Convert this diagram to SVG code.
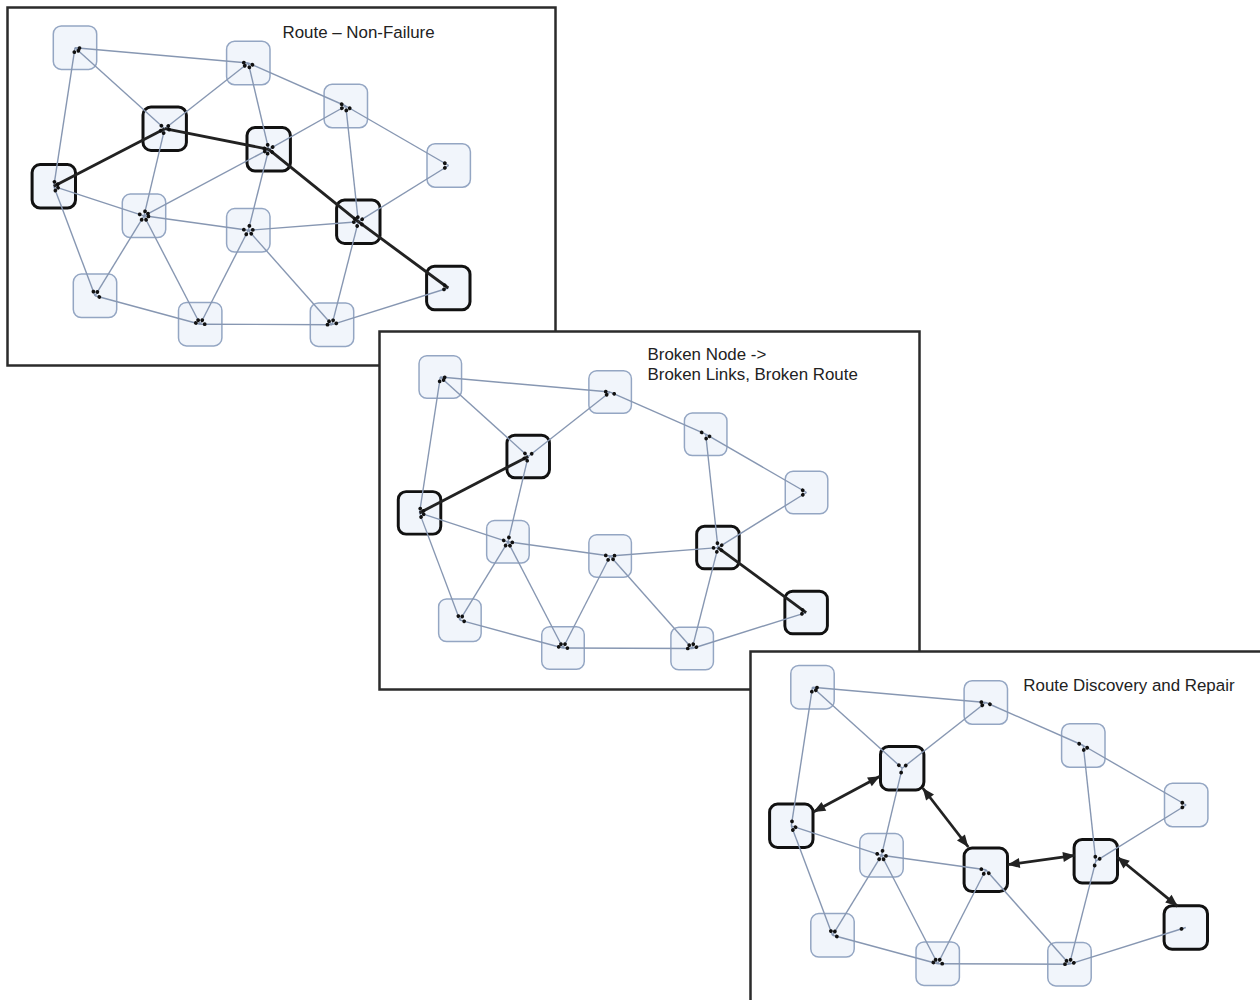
<svg xmlns="http://www.w3.org/2000/svg" width="1260" height="1000" viewBox="0 0 1260 1000">
<defs>
<style>
.frame{fill:#fff;stroke:#2b2b2b;stroke-width:2.5}
.n{fill:#f1f5fb;stroke:#94a6c3;stroke-width:1.5}
.nb{fill:#f1f5fb;stroke:#111;stroke-width:3}
.e{stroke:#8797b2;stroke-width:1.4;fill:none;marker-start:url(#ds);marker-end:url(#de)}
.r{stroke:#222;stroke-width:2.9;fill:none;marker-start:url(#ds);marker-end:url(#de)}
.a{stroke:#222;stroke-width:2.8;fill:none;marker-start:url(#ah);marker-end:url(#ah)}
.t{font-family:"Liberation Sans",Arial,sans-serif;font-size:16.9px;fill:#222}
</style>
<marker id="ds" markerUnits="userSpaceOnUse" markerWidth="14" markerHeight="14" refX="7" refY="7" orient="auto" overflow="visible"><circle cx="11.5" cy="7" r="1.9" fill="#111"/></marker>
<marker id="de" markerUnits="userSpaceOnUse" markerWidth="14" markerHeight="14" refX="7" refY="7" orient="auto" overflow="visible"><circle cx="2.5" cy="7" r="1.9" fill="#111"/></marker>
<marker id="ah" markerUnits="userSpaceOnUse" markerWidth="14" markerHeight="12" refX="12" refY="5" orient="auto-start-reverse" overflow="visible"><path d="M0,0 L12,5 L0,10 z" fill="#222"/></marker>
</defs>

<!-- Panel 1 -->
<rect class="frame" x="7.5" y="7.5" width="548" height="358"/>
<text class="t" x="282.5" y="38.3">Route – Non-Failure</text>
<g id="p1-nodes">
<g id="p1-A"><rect class="n" x="53.3" y="26" width="43.4" height="43.4" rx="8"/></g>
<g id="p1-B"><rect class="n" x="226.6" y="41.3" width="43.4" height="43.4" rx="8"/></g>
<g id="p1-C"><rect class="n" x="324.1" y="84.3" width="43.4" height="43.4" rx="8"/></g>
<g id="p1-D"><rect class="n" x="427" y="143.8" width="43.4" height="43.4" rx="8"/></g>
<g id="p1-E"><rect class="nb" x="143" y="107" width="43.4" height="43.4" rx="8"/></g>
<g id="p1-F"><rect class="nb" x="247" y="127.6" width="43.4" height="43.4" rx="8"/></g>
<g id="p1-G"><rect class="nb" x="32.1" y="164.6" width="43.4" height="43.4" rx="8"/></g>
<g id="p1-H"><rect class="n" x="122.3" y="194.1" width="43.4" height="43.4" rx="8"/></g>
<g id="p1-I"><rect class="n" x="226.6" y="208.6" width="43.4" height="43.4" rx="8"/></g>
<g id="p1-J"><rect class="nb" x="336.6" y="200" width="43.4" height="43.4" rx="8"/></g>
<g id="p1-K"><rect class="n" x="73.3" y="274.1" width="43.4" height="43.4" rx="8"/></g>
<g id="p1-L"><rect class="n" x="178.5" y="302.5" width="43.4" height="43.4" rx="8"/></g>
<g id="p1-M"><rect class="n" x="310.3" y="303" width="43.4" height="43.4" rx="8"/></g>
<g id="p1-N"><rect class="nb" x="426.6" y="266.3" width="43.4" height="43.4" rx="8"/></g>
</g>
<g id="p1-connectors">
<line class="e" x1="75" y1="47.7" x2="248.3" y2="63"/>
<line class="e" x1="75" y1="47.7" x2="164.7" y2="128.7"/>
<line class="e" x1="75" y1="47.7" x2="53.8" y2="186.3"/>
<line class="e" x1="248.3" y1="63" x2="164.7" y2="128.7"/>
<line class="e" x1="248.3" y1="63" x2="268.7" y2="149.3"/>
<line class="e" x1="248.3" y1="63" x2="345.8" y2="106"/>
<line class="e" x1="345.8" y1="106" x2="448.7" y2="165.5"/>
<line class="e" x1="345.8" y1="106" x2="268.7" y2="149.3"/>
<line class="e" x1="345.8" y1="106" x2="358.3" y2="221.7"/>
<line class="e" x1="448.7" y1="165.5" x2="358.3" y2="221.7"/>
<line class="e" x1="268.7" y1="149.3" x2="144" y2="215.8"/>
<line class="e" x1="268.7" y1="149.3" x2="248.3" y2="230.3"/>
<line class="e" x1="164.7" y1="128.7" x2="144" y2="215.8"/>
<line class="e" x1="53.8" y1="186.3" x2="144" y2="215.8"/>
<line class="e" x1="53.8" y1="186.3" x2="95" y2="295.8"/>
<line class="e" x1="144" y1="215.8" x2="248.3" y2="230.3"/>
<line class="e" x1="144" y1="215.8" x2="95" y2="295.8"/>
<line class="e" x1="144" y1="215.8" x2="200.2" y2="324.2"/>
<line class="e" x1="248.3" y1="230.3" x2="358.3" y2="221.7"/>
<line class="e" x1="248.3" y1="230.3" x2="200.2" y2="324.2"/>
<line class="e" x1="248.3" y1="230.3" x2="332" y2="324.7"/>
<line class="e" x1="358.3" y1="221.7" x2="332" y2="324.7"/>
<line class="e" x1="95" y1="295.8" x2="200.2" y2="324.2"/>
<line class="e" x1="200.2" y1="324.2" x2="332" y2="324.7"/>
<line class="e" x1="332" y1="324.7" x2="448.3" y2="288"/>
<line class="r" x1="53.8" y1="186.3" x2="164.7" y2="128.7"/>
<line class="r" x1="164.7" y1="128.7" x2="268.7" y2="149.3"/>
<line class="r" x1="268.7" y1="149.3" x2="358.3" y2="221.7"/>
<line class="r" x1="358.3" y1="221.7" x2="448.3" y2="288"/>
</g>

<!-- Panel 2 -->
<rect class="frame" x="379.5" y="331.5" width="540" height="358"/>
<text class="t" x="647.5" y="360.3">Broken Node -&gt;</text>
<text class="t" x="647.5" y="379.7">Broken Links, Broken Route</text>
<g transform="translate(366.8,330.3) scale(0.98)">
<g id="p2-nodes">
<g id="p2-A"><rect class="n" x="53.3" y="26" width="43.4" height="43.4" rx="8"/></g>
<g id="p2-B"><rect class="n" x="226.6" y="41.3" width="43.4" height="43.4" rx="8"/></g>
<g id="p2-C"><rect class="n" x="324.1" y="84.3" width="43.4" height="43.4" rx="8"/></g>
<g id="p2-D"><rect class="n" x="427" y="143.8" width="43.4" height="43.4" rx="8"/></g>
<g id="p2-E"><rect class="nb" x="143" y="107" width="43.4" height="43.4" rx="8"/></g>
<g id="p2-G"><rect class="nb" x="32.1" y="164.6" width="43.4" height="43.4" rx="8"/></g>
<g id="p2-H"><rect class="n" x="122.3" y="194.1" width="43.4" height="43.4" rx="8"/></g>
<g id="p2-I"><rect class="n" x="226.6" y="208.6" width="43.4" height="43.4" rx="8"/></g>
<g id="p2-J"><rect class="nb" x="336.6" y="200" width="43.4" height="43.4" rx="8"/></g>
<g id="p2-K"><rect class="n" x="73.3" y="274.1" width="43.4" height="43.4" rx="8"/></g>
<g id="p2-L"><rect class="n" x="178.5" y="302.5" width="43.4" height="43.4" rx="8"/></g>
<g id="p2-M"><rect class="n" x="310.3" y="303" width="43.4" height="43.4" rx="8"/></g>
<g id="p2-N"><rect class="nb" x="426.6" y="266.3" width="43.4" height="43.4" rx="8"/></g>
</g>
<g id="p2-connectors">
<line class="e" x1="75" y1="47.7" x2="248.3" y2="63"/>
<line class="e" x1="75" y1="47.7" x2="164.7" y2="128.7"/>
<line class="e" x1="75" y1="47.7" x2="53.8" y2="186.3"/>
<line class="e" x1="248.3" y1="63" x2="164.7" y2="128.7"/>
<line class="e" x1="248.3" y1="63" x2="345.8" y2="106"/>
<line class="e" x1="345.8" y1="106" x2="448.7" y2="165.5"/>
<line class="e" x1="345.8" y1="106" x2="358.3" y2="221.7"/>
<line class="e" x1="448.7" y1="165.5" x2="358.3" y2="221.7"/>
<line class="e" x1="164.7" y1="128.7" x2="144" y2="215.8"/>
<line class="e" x1="53.8" y1="186.3" x2="144" y2="215.8"/>
<line class="e" x1="53.8" y1="186.3" x2="95" y2="295.8"/>
<line class="e" x1="144" y1="215.8" x2="248.3" y2="230.3"/>
<line class="e" x1="144" y1="215.8" x2="95" y2="295.8"/>
<line class="e" x1="144" y1="215.8" x2="200.2" y2="324.2"/>
<line class="e" x1="248.3" y1="230.3" x2="358.3" y2="221.7"/>
<line class="e" x1="248.3" y1="230.3" x2="200.2" y2="324.2"/>
<line class="e" x1="248.3" y1="230.3" x2="332" y2="324.7"/>
<line class="e" x1="358.3" y1="221.7" x2="332" y2="324.7"/>
<line class="e" x1="95" y1="295.8" x2="200.2" y2="324.2"/>
<line class="e" x1="200.2" y1="324.2" x2="332" y2="324.7"/>
<line class="e" x1="332" y1="324.7" x2="448.3" y2="288"/>
<line class="r" x1="53.8" y1="186.3" x2="164.7" y2="128.7"/>
<line class="r" x1="358.3" y1="221.7" x2="448.3" y2="288"/>
</g>
</g>

<!-- Panel 3 -->
<rect class="frame" x="750.5" y="651.5" width="560" height="370"/>
<text class="t" x="1023.3" y="690.7">Route Discovery and Repair</text>
<g transform="translate(737.5,639.5)">
<g id="p3-nodes">
<g id="p3-A"><rect class="n" x="53.3" y="26" width="43.4" height="43.4" rx="8"/></g>
<g id="p3-B"><rect class="n" x="226.6" y="41.3" width="43.4" height="43.4" rx="8"/></g>
<g id="p3-C"><rect class="n" x="324.1" y="84.3" width="43.4" height="43.4" rx="8"/></g>
<g id="p3-D"><rect class="n" x="427" y="143.8" width="43.4" height="43.4" rx="8"/></g>
<g id="p3-E"><rect class="nb" x="143" y="107" width="43.4" height="43.4" rx="8"/></g>
<g id="p3-G"><rect class="nb" x="32.1" y="164.6" width="43.4" height="43.4" rx="8"/></g>
<g id="p3-H"><rect class="n" x="122.3" y="194.1" width="43.4" height="43.4" rx="8"/></g>
<g id="p3-I"><rect class="nb" x="226.6" y="208.6" width="43.4" height="43.4" rx="8"/></g>
<g id="p3-J"><rect class="nb" x="336.6" y="200" width="43.4" height="43.4" rx="8"/></g>
<g id="p3-K"><rect class="n" x="73.3" y="274.1" width="43.4" height="43.4" rx="8"/></g>
<g id="p3-L"><rect class="n" x="178.5" y="302.5" width="43.4" height="43.4" rx="8"/></g>
<g id="p3-M"><rect class="n" x="310.3" y="303" width="43.4" height="43.4" rx="8"/></g>
<g id="p3-N"><rect class="nb" x="426.6" y="266.3" width="43.4" height="43.4" rx="8"/></g>
</g>
<g id="p3-connectors">
<line class="e" x1="75" y1="47.7" x2="248.3" y2="63"/>
<line class="e" x1="75" y1="47.7" x2="164.7" y2="128.7"/>
<line class="e" x1="75" y1="47.7" x2="53.8" y2="186.3"/>
<line class="e" x1="248.3" y1="63" x2="164.7" y2="128.7"/>
<line class="e" x1="248.3" y1="63" x2="345.8" y2="106"/>
<line class="e" x1="345.8" y1="106" x2="448.7" y2="165.5"/>
<line class="e" x1="345.8" y1="106" x2="358.3" y2="221.7"/>
<line class="e" x1="448.7" y1="165.5" x2="358.3" y2="221.7"/>
<line class="e" x1="164.7" y1="128.7" x2="144" y2="215.8"/>
<line class="e" x1="53.8" y1="186.3" x2="144" y2="215.8"/>
<line class="e" x1="53.8" y1="186.3" x2="95" y2="295.8"/>
<line class="e" x1="144" y1="215.8" x2="248.3" y2="230.3"/>
<line class="e" x1="144" y1="215.8" x2="95" y2="295.8"/>
<line class="e" x1="144" y1="215.8" x2="200.2" y2="324.2"/>
<line class="e" x1="248.3" y1="230.3" x2="200.2" y2="324.2"/>
<line class="e" x1="248.3" y1="230.3" x2="332" y2="324.7"/>
<line class="e" x1="358.3" y1="221.7" x2="332" y2="324.7"/>
<line class="e" x1="95" y1="295.8" x2="200.2" y2="324.2"/>
<line class="e" x1="200.2" y1="324.2" x2="332" y2="324.7"/>
<line class="e" x1="332" y1="324.7" x2="448.3" y2="288"/>
<line class="a" x1="75.8" y1="172.5" x2="142.5" y2="136.8"/>
<line class="a" x1="185.2" y1="148.5" x2="230.8" y2="207.5"/>
<line class="a" x1="270.2" y1="225.2" x2="337.5" y2="215.8"/>
<line class="a" x1="379.8" y1="217.5" x2="440.2" y2="266.8"/>
</g>
</g>
</svg>
